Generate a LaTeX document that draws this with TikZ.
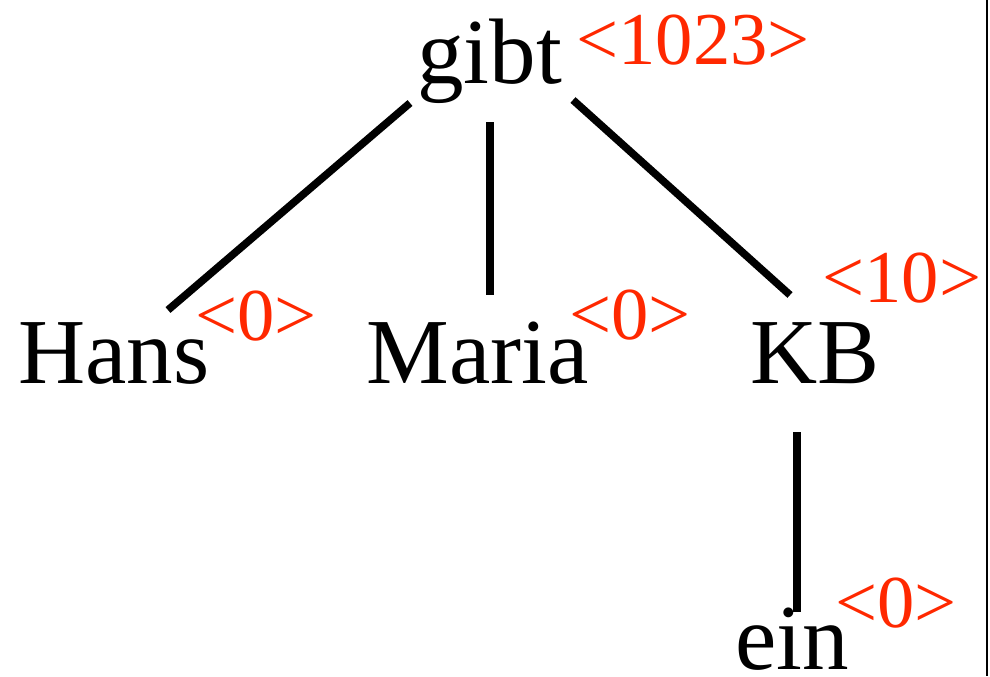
\documentclass[tikz,border=0pt]{standalone}
\usepackage{fontspec}
\setmainfont{Liberation Serif}
\definecolor{weightred}{RGB}{255,40,0}

\begin{document}
\begin{tikzpicture}
  [
    x=0.5pt, y=-0.5pt,
    word/.style={inner sep=0pt,anchor=base west,font=\fontsize{46.5}{46.5}\selectfont},
    weight/.style={inner sep=0pt,anchor=base west,text=weightred,font=\fontsize{37.3}{37.3}\selectfont},
    edge/.style={line width=3.8pt}
  ]
  \useasboundingbox (0,0) rectangle (990,676);
  \node[word] (gibt) at (417,83) {gibt};
  \node[weight] (gibt weight) at (576,64) {<1023>};
  \node[word] (Hans) at (18,383) {Hans};
  \node[weight] (Hans weight) at (195,340) {<0>};
  \node[word] (Maria) at (366,383) {Maria};
  \node[weight] (Maria weight) at (569,339) {<0>};
  \node[word] (KB) at (750,383) {KB};
  \node[weight] (KB weight) at (822,302) {<10>};
  \node[word] (ein) at (735,669) {ein};
  \node[weight] (ein weight) at (835,627) {<0>};
  \draw[edge] ([shift={(-7,20)}]gibt.base west) -- ([shift={(150,-73)}]Hans.base west);
  \draw[edge] ([shift={(73,39)}]gibt.base west) -- ([shift={(124,-88)}]Maria.base west);
  \draw[edge] ([shift={(156,17)}]gibt.base west) -- ([shift={(40,-88)}]KB.base west);
  \draw[edge] ([shift={(47,49)}]KB.base west) -- ([shift={(62,-57)}]ein.base west);
  % right edge
  \coordinate (frame top) at (987,0);
  \coordinate (frame bottom) at (987,676);
  \draw[line width=1pt] (frame top) -- (frame bottom);
\end{tikzpicture}
\end{document}
